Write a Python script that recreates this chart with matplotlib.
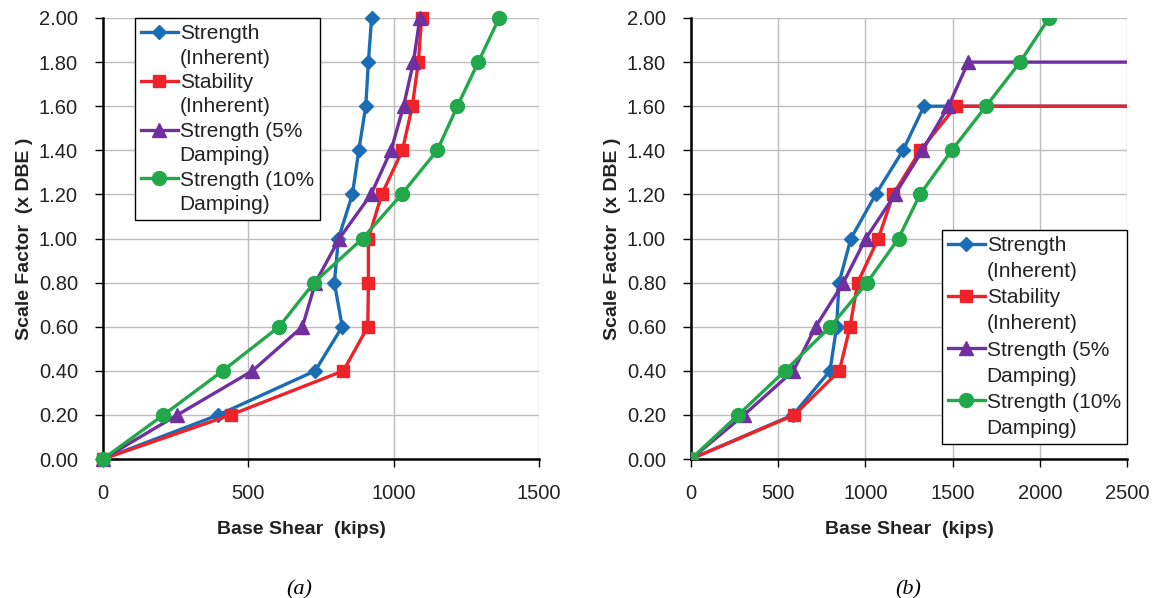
import matplotlib
matplotlib.use('Agg')
import matplotlib.pyplot as plt
from matplotlib.lines import Line2D

plt.rcParams['font.family'] = ['Liberation Sans', 'DejaVu Sans']

scale = [0.0, 0.2, 0.4, 0.6, 0.8, 1.0, 1.2, 1.4, 1.6, 1.8, 2.0]

# (a) base shear, kips
a_strength = [0, 397, 730, 823, 796, 810, 858, 880, 904, 913, 924]
a_stability = [0, 439, 827, 911, 913, 913, 959, 1030, 1064, 1085, 1096]
a_damp5 = [0, 256, 514, 686, 731, 813, 922, 991, 1034, 1068, 1090]
a_damp10 = [0, 208, 412, 606, 726, 893, 1027, 1150, 1219, 1291, 1363]

# (b) base shear, kips -- last points run off past the axis (collapse plateau)
b_strength_y = [0.0, 0.2, 0.4, 0.6, 0.8, 1.0, 1.2, 1.4, 1.6, 1.6]
b_strength = [0, 585, 797, 835, 849, 917, 1059, 1216, 1336, 2700]
b_stability_y = [0.0, 0.2, 0.4, 0.6, 0.8, 1.0, 1.2, 1.4, 1.6, 1.6]
b_stability = [0, 593, 851, 912, 956, 1074, 1160, 1315, 1519, 2700]
b_damp5_y = [0.0, 0.2, 0.4, 0.6, 0.8, 1.0, 1.2, 1.4, 1.6, 1.8, 1.8]
b_damp5 = [0, 304, 587, 715, 874, 1002, 1170, 1327, 1476, 1590, 2700]
b_damp10 = [0, 271, 539, 799, 1010, 1190, 1313, 1495, 1692, 1887, 2053]

names = ['Strength', '(Inherent)', 'Stability', '(Inherent)',
         'Strength (5%', 'Damping)', 'Strength (10%', 'Damping)']

BLUE = '#1a6db5'
RED = '#ee2229'
PURPLE = '#7030a0'
GREEN = '#22a84a'

styles = [dict(color=BLUE, marker='D', ms=7),
          dict(color=RED, marker='s', ms=9),
          dict(color=PURPLE, marker='^', ms=9.5),
          dict(color=GREEN, marker='o', ms=10)]


def setup(ax, xmax, xstep):
    ax.set_xlim(0, xmax)
    ax.set_ylim(0, 2.0)
    ax.set_xticks(range(0, xmax + 1, xstep))
    ax.set_yticks(scale)
    ax.set_yticklabels([f'{v:.2f}' for v in scale])
    ax.grid(True, color='#bdbdbd', lw=1.0)
    ax.set_axisbelow(True)
    for s in ['top', 'right']:
        ax.spines[s].set_visible(False)
    for s in ['left', 'bottom']:
        ax.spines[s].set_linewidth(1.8)
        ax.spines[s].set_zorder(1)
    ax.tick_params(axis='both', direction='out', length=6, width=1.0,
                   labelsize=14.5, colors='black', labelcolor='#222222')
    ax.tick_params(axis='x', pad=12)
    ax.tick_params(axis='y', pad=12)
    ax.set_xlabel('Base Shear  (kips)', fontsize=14, fontweight='bold',
                  color='#222222', labelpad=14)
    ax.set_ylabel('Scale Factor  (x DBE )', fontsize=14, fontweight='bold',
                  color='#222222', labelpad=4)


def legend(ax, loc, anchor, spacing):
    blank = Line2D([], [], linestyle='none')
    handles = []
    for st in styles:
        handles.append(Line2D([], [], lw=2.4, **st))
        handles.append(blank)
    leg = ax.legend(handles, names, loc=loc, bbox_to_anchor=anchor,
                    fontsize=15, frameon=True, fancybox=False,
                    edgecolor='black', framealpha=1, borderaxespad=0,
                    labelspacing=spacing, handlelength=1.75, handletextpad=0.1,
                    borderpad=0.3)
    leg.get_frame().set_linewidth(1.0)
    for t in leg.get_texts():
        t.set_color('#222222')


fig = plt.figure(figsize=(11.52, 5.98), dpi=100)
ax1 = fig.add_axes([0.0894, 0.2324, 0.3785, 0.7375])
ax2 = fig.add_axes([0.5998, 0.2324, 0.3785, 0.7375])

for x, st in zip([a_strength, a_stability, a_damp5, a_damp10], styles):
    ax1.plot(x, scale, lw=2.4, clip_on=False, zorder=3, **st)

for x, y, st in zip([b_strength, b_stability, b_damp5, b_damp10],
                    [b_strength_y, b_stability_y, b_damp5_y, scale], styles):
    ax2.plot(x, y, lw=2.4, zorder=3, **st)

setup(ax1, 1500, 500)
setup(ax2, 2500, 500)
ax1.xaxis.set_label_coords(0.456, -0.14)
ax2.xaxis.set_label_coords(0.5, -0.14)
legend(ax1, 'upper left', (0.073, 1.0), 0.26)
legend(ax2, 'lower right', (1.0, 0.034), 0.34)

fig.text(0.260, 0.006, '(a)', fontsize=16, style='italic',
         family='Liberation Serif', ha='center')
fig.text(0.788, 0.006, '(b)', fontsize=16, style='italic',
         family='Liberation Serif', ha='center')

fig.savefig('out.png', dpi=100)
